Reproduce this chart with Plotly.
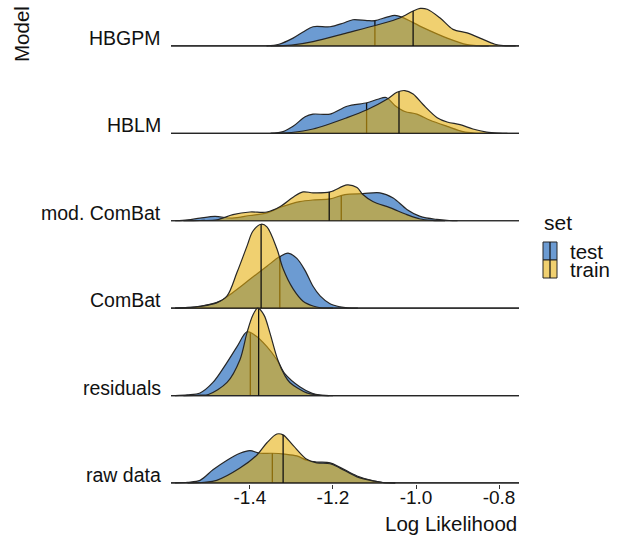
import numpy as np
import plotly.graph_objects as go

# ---------------- data ----------------
models = ["raw data", "residuals", "ComBat", "mod. ComBat", "HBLM", "HBGPM"]
sets = ["test", "train"]

# ridge curves: x = Log Likelihood, h = ridge height (in row units)
raw_test_x = [-1.580, -1.550, -1.520, -1.489, -1.455, -1.424, -1.400, -1.376, -1.347, -1.316, -1.287, -1.263, -1.239, -1.207, -1.183, -1.142, -1.100, -1.080, -1.050]
raw_test_h = [0, .008, .03, .15, .26, .34, .37, .34, .34, .33, .31, .26, .24, .23, .18, .08, .02, .005, 0]
raw_train_x = [-1.550, -1.510, -1.480, -1.424, -1.383, -1.359, -1.335, -1.320, -1.296, -1.263, -1.239, -1.207, -1.183, -1.142, -1.100, -1.080, -1.050]
raw_train_h = [0, .008, .03, .17, .32, .46, .56, .55, .43, .27, .23, .22, .17, .07, .02, .005, 0]

res_test_x = [-1.580, -1.550, -1.520, -1.489, -1.455, -1.431, -1.407, -1.388, -1.359, -1.335, -1.316, -1.280, -1.250, -1.230, -1.200]
res_test_h = [0, .008, .03, .15, .38, .56, .73, .69, .56, .41, .25, .10, .025, .006, 0]
res_train_x = [-1.560, -1.520, -1.500, -1.455, -1.424, -1.407, -1.393, -1.381, -1.366, -1.352, -1.333, -1.316, -1.304, -1.263, -1.240, -1.210]
res_train_h = [0, .004, .012, .15, .41, .72, .92, 1.00, .92, .72, .41, .23, .15, .03, .008, 0]

cb_test_x = [-1.580, -1.550, -1.520, -1.472, -1.441, -1.400, -1.359, -1.328, -1.308, -1.287, -1.267, -1.248, -1.231, -1.207, -1.183, -1.165, -1.140]
cb_test_h = [0, .008, .02, .08, .18, .33, .48, .59, .63, .57, .43, .25, .14, .05, .015, .003, 0]
cb_train_x = [-1.580, -1.550, -1.520, -1.480, -1.455, -1.431, -1.407, -1.393, -1.373, -1.359, -1.335, -1.320, -1.296, -1.272, -1.248, -1.230, -1.200]
cb_train_h = [0, .006, .02, .06, .14, .41, .71, .88, .96, .93, .68, .45, .22, .08, .025, .005, 0]

mcb_test_x = [-1.580, -1.550, -1.520, -1.484, -1.443, -1.400, -1.359, -1.323, -1.280, -1.243, -1.207, -1.171, -1.128, -1.087, -1.055, -1.022, -0.990, -0.950, -0.920, -0.900]
mcb_test_h = [0, .01, .03, .05, .03, .06, .09, .16, .22, .24, .25, .30, .31, .32, .26, .13, .05, .015, .003, 0]
mcb_train_x = [-1.560, -1.520, -1.480, -1.441, -1.400, -1.359, -1.328, -1.296, -1.272, -1.248, -1.207, -1.166, -1.142, -1.128, -1.104, -1.063, -1.022, -0.990, -0.960, -0.930]
mcb_train_h = [0, .003, .01, .07, .10, .10, .16, .27, .33, .32, .33, .41, .38, .30, .22, .15, .07, .02, .005, 0]

hblm_test_x = [-1.350, -1.320, -1.296, -1.267, -1.248, -1.207, -1.166, -1.118, -1.092, -1.072, -1.051, -1.027, -0.998, -0.966, -0.925, -0.887, -0.860, -0.830]
hblm_test_h = [0, .02, .08, .19, .22, .22, .31, .35, .39, .41, .32, .25, .22, .15, .08, .02, .004, 0]
hblm_train_x = [-1.350, -1.300, -1.248, -1.166, -1.118, -1.070, -1.046, -1.027, -1.007, -0.983, -0.949, -0.925, -0.894, -0.863, -0.830, -0.800, -0.780]
hblm_train_h = [0, .01, .05, .18, .27, .39, .47, .49, .45, .33, .18, .13, .10, .05, .015, .003, 0]

hbgpm_test_x = [-1.360, -1.330, -1.296, -1.272, -1.248, -1.207, -1.176, -1.152, -1.118, -1.099, -1.070, -1.051, -1.034, -0.983, -0.925, -0.877, -0.850, -0.825]
hbgpm_test_h = [0, .02, .09, .16, .22, .22, .26, .30, .29, .29, .33, .35, .33, .21, .09, .015, .003, 0]
hbgpm_train_x = [-1.350, -1.300, -1.248, -1.166, -1.094, -1.039, -1.007, -0.990, -0.973, -0.942, -0.911, -0.877, -0.846, -0.810, -0.790, -0.760]
hbgpm_train_h = [0, .01, .05, .15, .24, .32, .40, .43, .42, .32, .19, .15, .09, .02, .005, 0]

curves_x = {
    "test": [raw_test_x, res_test_x, cb_test_x, mcb_test_x, hblm_test_x, hbgpm_test_x],
    "train": [raw_train_x, res_train_x, cb_train_x, mcb_train_x, hblm_train_x, hbgpm_train_x],
}
curves_h = {
    "test": [raw_test_h, res_test_h, cb_test_h, mcb_test_h, hblm_test_h, hbgpm_test_h],
    "train": [raw_train_h, res_train_h, cb_train_h, mcb_train_h, hblm_train_h, hbgpm_train_h],
}

# medians (quantile lines)
median_test = [-1.346, -1.399, -1.328, -1.180, -1.119, -1.099]
median_train = [-1.320, -1.379, -1.373, -1.209, -1.041, -1.007]
medians = {"test": median_test, "train": median_train}

x_ticks = [-1.4, -1.2, -1.0, -0.8]
x_tick_labels = ["-1.4", "-1.2", "-1.0", "-0.8"]
X_RANGE = [-1.59, -0.752]

# ---------------- style ----------------
FILL = {"test": "rgba(2,83,177,0.58)", "train": "rgba(229,174,8,0.58)"}
OUTLINE = "#262626"
FONT = "Liberation Sans, Arial, sans-serif"

W, H = 631, 536
ML, MR, MT, MB = 171, 112, 0, 52
PW, PH = W - ML - MR, H - MT - MB


def px_x(p):
    return (p - ML) / PW


def px_y(p):
    return (H - MB - p) / PH


fig = go.Figure()

# draw from top row to bottom row so lower ridges sit on top
for i in reversed(range(len(models))):
    for s in sets:
        xs = list(curves_x[s][i])
        ys = [i + h for h in curves_h[s][i]]
        # baseline spanning the whole x range (ggridges draws it as part of the outline)
        fig.add_trace(go.Scatter(x=[X_RANGE[0], X_RANGE[1]], y=[i, i], mode="lines",
                                 line=dict(width=1.2, color=OUTLINE),
                                 hoverinfo="skip", showlegend=False))
        fig.add_trace(go.Scatter(x=xs, y=ys, mode="lines",
                                 line=dict(color=OUTLINE, width=1.2, shape="spline", smoothing=0.9),
                                 fill="tonexty", fillcolor=FILL[s],
                                 name=s, showlegend=False, hoverinfo="skip"))
        m = medians[s][i]
        top = float(np.interp(m, curves_x[s][i], curves_h[s][i]))
        fig.add_trace(go.Scatter(x=[m, m], y=[i, i + top], mode="lines",
                                 line=dict(color="#111111", width=1.3),
                                 hoverinfo="skip", showlegend=False))

annotations = []
for i, name in enumerate(models):
    annotations.append(dict(text=name, xref="paper", yref="y", x=0, y=i,
                            xanchor="right", yanchor="bottom", xshift=-8, yshift=-5,
                            showarrow=False, font=dict(size=19.5, color="#111111", family=FONT)))

annotations.append(dict(text="Model", xref="paper", yref="paper", x=px_x(22), y=px_y(4),
                        xanchor="center", yanchor="top", textangle=-90, showarrow=False,
                        font=dict(size=20.5, color="#111111", family=FONT)))
annotations.append(dict(text="Log Likelihood", xref="paper", yref="paper", x=px_x(519), y=px_y(523),
                        xanchor="right", yanchor="middle", showarrow=False,
                        font=dict(size=20.5, color="#111111", family=FONT)))

# legend (manual, ggridges-style keys)
annotations.append(dict(text="set", xref="paper", yref="paper", x=px_x(542), y=px_y(223),
                        xanchor="left", yanchor="middle", showarrow=False,
                        font=dict(size=21, color="#111111", family=FONT)))
shapes = []
key_top = [242, 260]
for k, s in enumerate(sets):
    y0, y1 = key_top[k], key_top[k] + 18
    shapes.append(dict(type="rect", xref="paper", yref="paper", x0=px_x(543), x1=px_x(557),
                       y0=px_y(y1), y1=px_y(y0), fillcolor="white", line=dict(width=0)))
    shapes.append(dict(type="rect", xref="paper", yref="paper", x0=px_x(543), x1=px_x(557),
                       y0=px_y(y1), y1=px_y(y0), fillcolor=FILL[s], line=dict(color=OUTLINE, width=1)))
    shapes.append(dict(type="line", xref="paper", yref="paper", x0=px_x(550), x1=px_x(550),
                       y0=px_y(y1), y1=px_y(y0), line=dict(color="#111111", width=1.2)))
    annotations.append(dict(text=s, xref="paper", yref="paper", x=px_x(568), y=px_y(y0 + 9),
                            xanchor="left", yanchor="middle", showarrow=False,
                            font=dict(size=20.5, color="#111111", family=FONT)))

fig.update_layout(
    width=W, height=H,
    margin=dict(l=ML, r=MR, t=MT, b=MB),
    paper_bgcolor="white", plot_bgcolor="white",
    showlegend=False,
    annotations=annotations, shapes=shapes,
    xaxis=dict(range=X_RANGE, tickvals=x_ticks, ticktext=x_tick_labels,
               ticks="outside", ticklen=4, tickcolor="#333333", tickwidth=1,
               ticklabelstandoff=-8,
               showgrid=False, zeroline=False, showline=False,
               tickfont=dict(size=19, color="#111111", family=FONT)),
    yaxis=dict(range=[-0.012, 5.526], showticklabels=False, ticks="",
               showgrid=False, zeroline=False, showline=False),
)

fig.write_html("out.html")
